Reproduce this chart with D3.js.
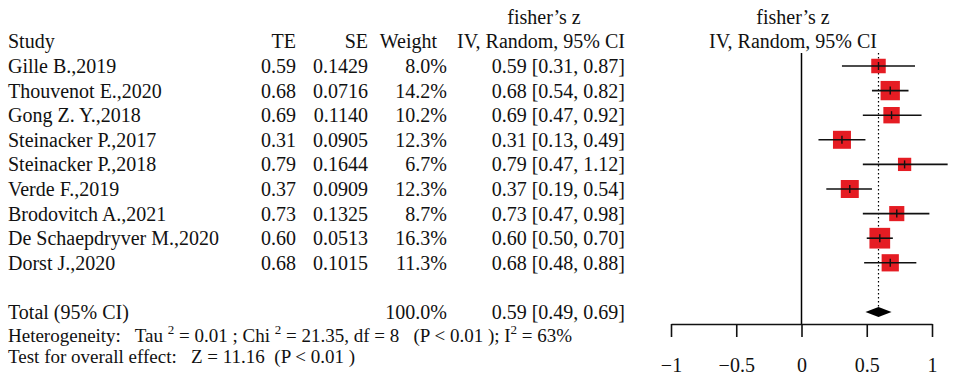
<!DOCTYPE html>
<meta charset="utf-8">
<script src="https://d3js.org/d3.v7.min.js"></script>
<style>
  body { margin: 0; background: #fff; }
  text { font-family: "Liberation Serif", "Times New Roman", serif; fill: #111; }
</style>
<div id="forest"></div>
<script>

// study data
var studies = ["Gille B.,2019", "Thouvenot E.,2020", "Gong Z. Y.,2018", "Steinacker P.,2017",
               "Steinacker P.,2018", "Verde F.,2019", "Brodovitch A.,2021",
               "De Schaepdryver M.,2020", "Dorst J.,2020"];
var te     = [0.59, 0.68, 0.69, 0.31, 0.79, 0.37, 0.73, 0.60, 0.68];
var se     = [0.1429, 0.0716, 0.1140, 0.0905, 0.1644, 0.0909, 0.1325, 0.0513, 0.1015];
var weight = [8.0, 14.2, 10.2, 12.3, 6.7, 12.3, 8.7, 16.3, 11.3];
var lower  = [0.31, 0.54, 0.47, 0.13, 0.47, 0.19, 0.47, 0.50, 0.48];
var upper  = [0.87, 0.82, 0.92, 0.49, 1.12, 0.54, 0.98, 0.70, 0.88];

// pooled estimate
var totalTE = 0.59, totalLower = 0.49, totalUpper = 0.69, totalWeight = 100.0;

var axisTicks = [-1, -0.5, 0, 0.5, 1];

var width = 957, height = 376;

var svg = d3.select("#forest")
  .append("svg")
    .attr("width", width)
    .attr("height", height);

// row index -> vertical centre (rows 0..8 studies, 10 total)
var y = d3.scaleLinear().domain([0, 10]).range([66, 312]);
// effect -> horizontal position in the plot panel
var x = d3.scaleLinear().domain([-1, 1]).range([671, 932]);
// box side from weight
var box = d3.scaleSqrt().domain([0, 16.3]).range([0, 20.7]);

var fs = 20;
var base = 7; // baseline offset from row centre

function txt(xx, yy, s, anchor, size) {
  return svg.append("text")
    .attr("x", xx).attr("y", yy)
    .attr("text-anchor", anchor || "start")
    .style("font-size", (size || fs) + "px")
    .text(s);
}

// ---- headers
txt(544, y(-2) + base, "fisher\u2019s z", "middle");
txt(8, y(-1) + base, "Study");
txt(296, y(-1) + base, "TE", "end");
txt(368, y(-1) + base, "SE", "end");
txt(437, y(-1) + base, "Weight", "end");
txt(625, y(-1) + base, "IV, Random, 95% CI", "end");

txt(793, y(-2) + base, "fisher\u2019s z", "middle");
txt(793, y(-1) + base, "IV, Random, 95% CI", "middle");

// ---- table rows
var f2 = d3.format(".2f"), f4 = d3.format(".4f"), f1 = d3.format(".1f");
studies.forEach(function(s, i) {
  var yy = y(i) + base;
  txt(8, yy, s);
  txt(296, yy, f2(te[i]), "end");
  txt(368, yy, f4(se[i]), "end");
  txt(447, yy, f1(weight[i]) + "%", "end");
  txt(625, yy, f2(te[i]) + " [" + f2(lower[i]) + ", " + f2(upper[i]) + "]", "end");
});

// total row
txt(8, y(10) + base, "Total (95% CI)");
txt(447, y(10) + base, f1(totalWeight) + "%", "end");
txt(625, y(10) + base, f2(totalTE) + " [" + f2(totalLower) + ", " + f2(totalUpper) + "]", "end");

// heterogeneity line
var het = svg.append("text")
  .attr("x", 8).attr("y", 342)
  .style("font-size", "19px")
  .style("white-space", "pre");
het.append("tspan").text("Heterogeneity:   Tau ");
het.append("tspan").attr("dy", -8).style("font-size", "13px").text("2");
het.append("tspan").attr("dy", 8).text(" = 0.01 ; Chi ");
het.append("tspan").attr("dy", -8).style("font-size", "13px").text("2");
het.append("tspan").attr("dy", 8).text(" = 21.35, df = 8   (P < 0.01 ); I");
het.append("tspan").attr("dy", -8).style("font-size", "13px").text("2");
het.append("tspan").attr("dy", 8).text(" = 63%");

svg.append("text")
  .attr("x", 8).attr("y", 363)
  .style("font-size", "19px")
  .style("white-space", "pre")
  .text("Test for overall effect:   Z = 11.16  (P < 0.01 )");

// ---- plot panel
var axisY = 324;

// null line
svg.append("line")
  .attr("x1", x(0)).attr("x2", x(0))
  .attr("y1", 53).attr("y2", axisY)
  .attr("stroke", "#000").attr("stroke-width", 1.5);

// pooled effect dotted line
svg.append("line")
  .attr("x1", x(totalTE)).attr("x2", x(totalTE))
  .attr("y1", 53).attr("y2", y(10) - 5)
  .attr("stroke", "#000").attr("stroke-width", 1.2)
  .attr("stroke-dasharray", "1.5,2.5");

var rows = svg.append("g").selectAll("g")
  .data(studies.map(function(s, i) { return i; }))
  .enter().append("g");

// boxes
rows.append("rect")
  .attr("x", function(i) { return x(te[i]) - box(weight[i]) / 2; })
  .attr("y", function(i) { return y(i) - box(weight[i]) / 2; })
  .attr("width", function(i) { return box(weight[i]); })
  .attr("height", function(i) { return box(weight[i]); })
  .attr("fill", "#e51c23");

// CI lines
rows.append("line")
  .attr("x1", function(i) { return x(lower[i]); })
  .attr("x2", function(i) { return x(upper[i]); })
  .attr("y1", function(i) { return y(i); })
  .attr("y2", function(i) { return y(i); })
  .attr("stroke", "#111").attr("stroke-width", 1.6);

// point mark
rows.append("line")
  .attr("x1", function(i) { return x(te[i]); })
  .attr("x2", function(i) { return x(te[i]); })
  .attr("y1", function(i) { return y(i) - 4; })
  .attr("y2", function(i) { return y(i) + 4; })
  .attr("stroke", "#111").attr("stroke-width", 1.4);

// summary diamond
var dy = y(10);
svg.append("path")
  .attr("d", "M" + x(totalLower) + "," + dy +
             "L" + x(totalTE) + "," + (dy - 5) +
             "L" + x(totalUpper) + "," + dy +
             "L" + x(totalTE) + "," + (dy + 5) + "Z")
  .attr("fill", "#000");

// x axis
var axis = svg.append("g")
  .attr("transform", "translate(0," + axisY + ")")
  .call(d3.axisBottom(x)
    .tickValues(axisTicks)
    .tickSize(13)
    .tickSizeOuter(0)
    .tickPadding(21)
    .tickFormat(d3.format("")));

axis.select(".domain").attr("stroke", "#111").attr("stroke-width", 1.6);
axis.selectAll(".tick line").attr("stroke", "#111").attr("stroke-width", 1.6);
axis.selectAll(".tick text")
  .style("font-family", "'Liberation Serif', 'Times New Roman', serif")
  .style("font-size", "20px")
  .attr("fill", "#111");

</script>
